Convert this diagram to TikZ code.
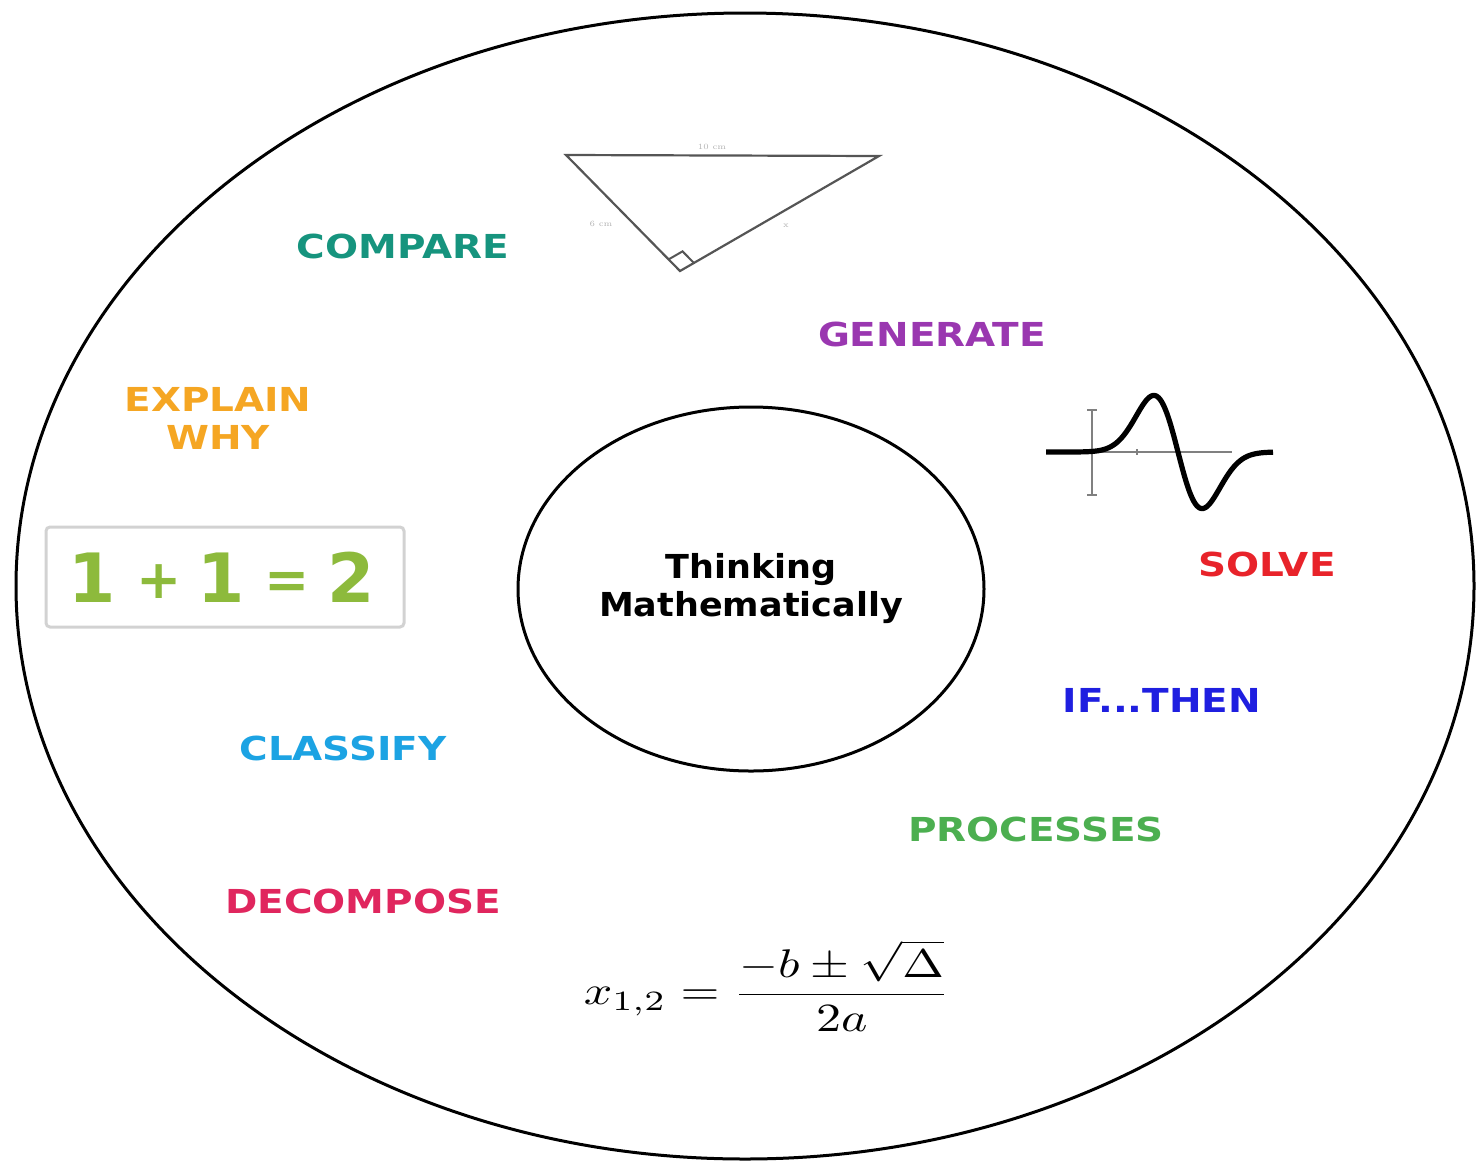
\documentclass[tikz,border=0pt]{standalone}
\usepackage{fontspec}
\usetikzlibrary{shapes.geometric,calc}
\newfontfamily\lbl[FakeStretch=1.18]{DejaVu Sans}
\newfontfamily\ctr[FakeStretch=1.06]{DejaVu Sans}
\newfontfamily\eqfont{DejaVu Sans}
\definecolor{ccompare}{HTML}{16947E}
\definecolor{cgenerate}{HTML}{9A37B0}
\definecolor{cexplain}{HTML}{F5A623}
\definecolor{csolve}{HTML}{E8232A}
\definecolor{cifthen}{HTML}{1F1FE0}
\definecolor{cclassify}{HTML}{1CA3E3}
\definecolor{cprocesses}{HTML}{4CAF50}
\definecolor{cdecompose}{HTML}{E0265E}
\definecolor{cone}{HTML}{8DBA3C}
\definecolor{triline}{HTML}{555555}
\newcommand{\smallop}[1]{\raisebox{2pt}{\fontsize{27}{30}\selectfont #1}}
\begin{document}
\begin{tikzpicture}[x=0.5pt,y=-0.5pt,
  word/.style={font=\lbl\bfseries\fontsize{16.5}{19}\selectfont, inner sep=0pt, align=center},
  tinylbl/.style={font=\fontsize{4}{4}\selectfont, text=gray!60, inner sep=0pt}]
\useasboundingbox (0,0) rectangle (1478,1163);
% outer and inner ellipses
\node[ellipse, draw, line width=1.5pt, minimum width=729pt, minimum height=573pt, inner sep=0pt] (outer) at (745,586) {};
\node[ellipse, draw, line width=1.5pt, minimum width=233pt, minimum height=182pt, inner sep=0pt,
  font=\ctr\bfseries\fontsize{16.5}{19}\selectfont, align=center] (center) at (751,589) {Thinking\\Mathematically};
% words
\node[word, text=ccompare] (compare) at (403,246) {COMPARE};
\node[word, text=cgenerate] (generate) at (932,334) {GENERATE};
\node[word, text=cexplain] (explain) at (218,418) {EXPLAIN\\WHY};
\node[word, text=csolve] (solve) at (1267,564) {SOLVE};
\node[word, text=cifthen] (ifthen) at (1162,700) {IF...THEN};
\node[word, text=cclassify] (classify) at (343,748) {CLASSIFY};
\node[word, text=cprocesses] (processes) at (1036,829) {PROCESSES};
\node[word, text=cdecompose] (decompose) at (363,901) {DECOMPOSE};
% 1+1=2 box
\node[draw=gray!35, line width=1.5pt, rounded corners=2pt, minimum width=179pt, minimum height=50pt, inner sep=0pt] (oneplus) at (225,577) {};
\node[inner sep=0pt, text=cone, font=\eqfont\bfseries\fontsize{34}{40}\selectfont] (onetext) at (222,577)
  {1\hspace{10pt}\smallop{+}\hspace{8pt}1\hspace{10pt}\smallop{=}\hspace{9pt}2};
% formula
\node[inner sep=0pt] (formula) at (767,986) {\scalebox{2.5}[2.0]{$\displaystyle x_{1,2}=\frac{-b\pm\sqrt{\Delta}}{2a}$}};
% triangle
\coordinate (ta) at (566,155);
\coordinate (tb) at (879,156);
\coordinate (tc) at (680,271);
\draw[triline, line width=1.1pt, line join=miter] (ta) -- (tb) -- (tc) -- cycle;
\coordinate (r1) at ($(tc)!0.1!(ta)$);
\coordinate (r2) at ($(tc)!0.07!(tb)$);
\draw[triline, line width=1pt] (r1) -- ($(r1)+(r2)-(tc)$) -- (r2);
\node[tinylbl] (tlab) at (712,147) {10 cm};
\node[tinylbl] (llab) at (601,224) {6 cm};
\node[tinylbl] (rlab) at (786,226) {x};
% graph
\draw[gray, line width=1pt] (1092,410) -- (1092,495);
\draw[gray, line width=0.8pt] (1087,410) -- (1097,410);
\draw[gray, line width=0.8pt] (1087,495) -- (1097,495);
\draw[gray, line width=1pt] (1046,452) -- (1232,452);
\draw[gray, line width=0.8pt] (1137,449) -- (1137,455);
\draw[line width=2.6pt, line join=round] plot[domain=1046:1273, samples=150, smooth]
  (\x, {452 + 87*((\x-1178)/22.5)*exp(-((\x-1178)/22.5)^2/2.3)});
\end{tikzpicture}
\end{document}
